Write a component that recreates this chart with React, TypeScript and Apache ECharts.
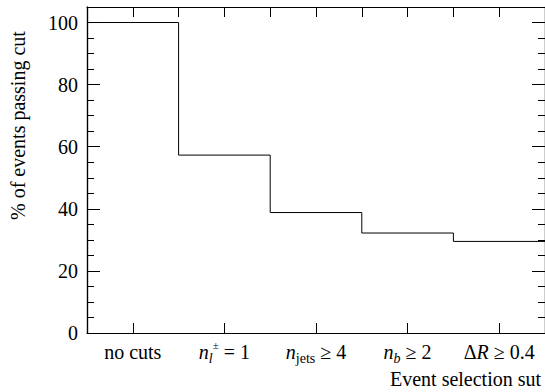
import React, { useEffect, useRef } from "react";
import * as echarts from "echarts";

const categories = ["no cuts", "n_l± = 1", "n_jets ≥ 4", "n_b ≥ 2", "ΔR ≥ 0.4"];
const categoryMarkup = [
  "{rm|no cuts}",
  "{it|n}{subit|l}{sup|±}{rm| = 1}",
  "{it|n}{sub|jets}{rm| ≥ 4}",
  "{it|n}{subit|b}{rm| ≥ 2}",
  "{rm|Δ}{it|R}{rm| ≥ 0.4}",
];
const percentPassing = [100, 57.3, 38.8, 32.2, 29.5];
const yMajorTicks = [0, 20, 40, 60, 80, 100];
const yAxisTitle = "% of events passing cut";
const xAxisTitle = "Event selection sut";

const FONT = "Liberation Serif";
const FS = 20;

function buildOption() {
  const stepData: number[][] = percentPassing.map((v, i) => [i, v]);
  stepData.push([percentPassing.length, percentPassing[percentPassing.length - 1]]);
  const lineStyle = { color: "#000", width: 1.2 };
  const tickStyle = { color: "#000", width: 1 };
  const yBase = {
    type: "value",
    min: 0,
    max: 105,
    splitLine: { show: false },
    axisLine: { show: true, onZero: false, lineStyle },
  };
  return {
    animation: false,
    grid: { left: 87, right: -1, top: 7, bottom: 59 },
    xAxis: [
      {
        type: "category",
        data: categories,
        position: "bottom",
        boundaryGap: true,
        axisLine: { show: true, onZero: false, lineStyle },
        axisTick: { show: true, inside: true, alignWithLabel: true, interval: 0, length: 10, lineStyle: tickStyle },
        axisLabel: {
          interval: 0,
          margin: 6,
          fontFamily: FONT,
          fontSize: FS,
          color: "#000",
          formatter: (_v: string, i: number) => categoryMarkup[i],
          rich: {
            rm: { fontFamily: FONT, fontSize: FS, color: "#000", lineHeight: 26, verticalAlign: "middle" },
            it: { fontFamily: FONT, fontSize: FS, fontStyle: "italic", color: "#000", lineHeight: 26, verticalAlign: "middle" },
            sub: { fontFamily: FONT, fontSize: 14, color: "#000", lineHeight: 16, verticalAlign: "bottom" },
            subit: { fontFamily: FONT, fontSize: 14, fontStyle: "italic", color: "#000", lineHeight: 16, verticalAlign: "bottom" },
            sup: { fontFamily: FONT, fontSize: 11, color: "#000", lineHeight: 24, verticalAlign: "top" },
          },
        },
        splitLine: { show: false },
      },
      {
        type: "value",
        position: "top",
        min: 0,
        max: categories.length,
        interval: 0.5,
        axisLine: { show: true, onZero: false, lineStyle },
        axisTick: { show: true, inside: true, length: 10, lineStyle: tickStyle },
        axisLabel: { show: false },
        splitLine: { show: false },
      },
    ],
    yAxis: [
      {
        ...yBase,
        position: "left",
        interval: 20,
        axisTick: { show: true, inside: true, length: 13, lineStyle: tickStyle },
        axisLabel: {
          show: true,
          margin: 9,
          fontFamily: FONT,
          fontSize: FS,
          color: "#000",
          formatter: (v: number) => (yMajorTicks.includes(v) ? String(v) : ""),
        },
      },
      {
        ...yBase,
        position: "left",
        interval: 5,
        axisTick: { show: true, inside: true, length: 7, lineStyle: tickStyle },
        axisLabel: { show: false },
      },
      {
        ...yBase,
        position: "right",
        interval: 5,
        axisTick: { show: true, inside: true, length: 7, lineStyle: tickStyle },
        axisLabel: { show: false },
      },
      {
        ...yBase,
        position: "right",
        interval: 20,
        axisTick: { show: true, inside: true, length: 13, lineStyle: tickStyle },
        axisLabel: { show: false },
      },
    ],
    graphic: [
      {
        type: "text",
        x: 8,
        y: 220,
        rotation: Math.PI / 2,
        style: { text: yAxisTitle, fontFamily: FONT, fontSize: FS, fill: "#000" },
      },
      {
        type: "text",
        x: 390,
        y: 369,
        style: { text: xAxisTitle, fontFamily: FONT, fontSize: FS, fill: "#000" },
      },
    ],
    series: [
      {
        type: "line",
        xAxisIndex: 1,
        yAxisIndex: 0,
        step: "end",
        symbol: "none",
        data: stepData,
        lineStyle: { color: "#000", width: 1 },
      },
    ],
  };
}

function Chart() {
  const ref = useRef<HTMLDivElement>(null);
  useEffect(() => {
    const chart = echarts.init(ref.current!, undefined, { renderer: "svg" });
    chart.setOption(buildOption() as any);
    return () => chart.dispose();
  }, []);
  return <div ref={ref} style={{ position: "absolute", left: 0, top: 0, width: 545, height: 392 }} />;
}

export default function App() {
  useEffect(() => {
    document.body.style.margin = "0";
  }, []);
  return (
    <div>
      <Chart />
    </div>
  );
}
